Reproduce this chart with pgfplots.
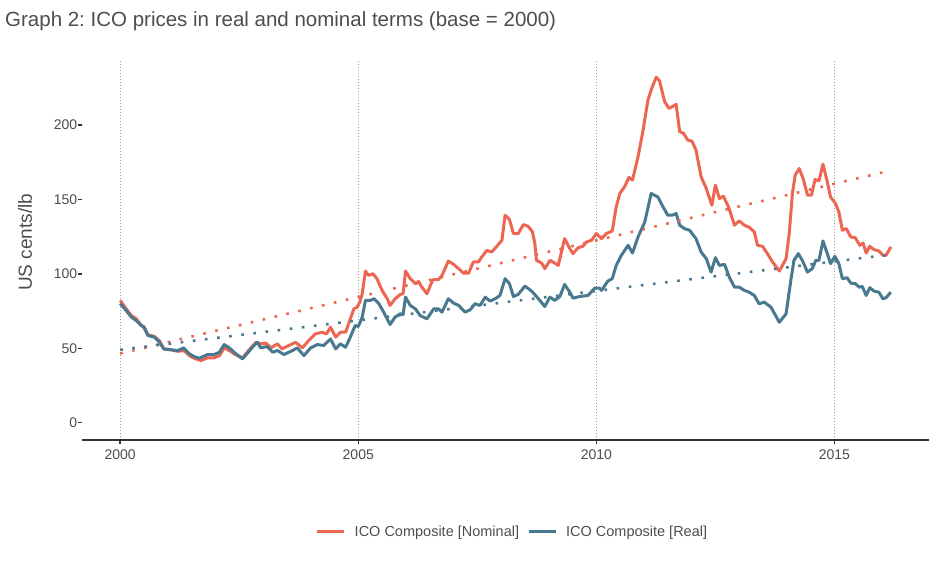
\documentclass[border=0pt]{standalone}
\usepackage{fontspec}
\setmainfont{Liberation Sans}
\usepackage{pgfplots}
\pgfplotsset{compat=1.18}
\frenchspacing
\definecolor{nomc}{RGB}{236,102,82}
\definecolor{realc}{RGB}{72,121,143}
\definecolor{txtc}{RGB}{77,77,77}
\definecolor{tickc}{RGB}{51,51,51}
\begin{document}
\begin{tikzpicture}[x=1pt,y=1pt]
\useasboundingbox (0,0) rectangle (940,588);
\node[anchor=base west, font=\fontsize{20.5}{24}\selectfont, text=txtc, inner sep=0pt] at (5,561) {Graph 2: ICO prices in real and nominal terms (base = 2000)};
\begin{axis}[
 at={(81.7pt,148pt)}, anchor=south west,
 scale only axis, width=847.6pt, height=380pt,
 xmin=-9.7, xmax=203.9, ymin=-11.6, ymax=243.7,
 axis x line*=bottom, axis y line*=left,
 x axis line style={-, line width=1.3pt, color=tickc},
 y axis line style={draw=none},
 xtick={0,60,120,180}, xticklabels={2000,2005,2010,2015},
 ytick={0,50,100,150,200},
 tick align=outside,
 major tick length=4pt,
 x tick style={line width=1.5pt, color=tickc},
 y tick style={line width=1.3pt, color=tickc},
 /pgf/number format/assume math mode=true,
 tick label style={font=\fontsize{14}{16}\selectfont, text=txtc},
 yticklabel style={xshift=3pt},
 xticklabel style={yshift=-2pt},
 xmajorgrids,
 major x grid style={color=black!40, line width=0.8pt, dash pattern=on 1pt off 2pt},
 ylabel={US cents/lb},
 ylabel style={at={(axis description cs:-0.0669,0.52)}, anchor=center, font=\fontsize{19}{22}\selectfont, text=txtc},
 legend columns=2,
 legend style={at={(axis description cs:0.507,-0.2421)}, anchor=center, draw=none, fill=none,
   font=\fontsize{14.5}{17}\selectfont, text=txtc, nodes={inner sep=0pt},
   /tikz/every odd column/.append style={column sep=9pt},
   /tikz/every even column/.append style={column sep=8pt}},
 legend image code/.code={\draw[#1,line width=3pt] (0pt,0pt) -- (27pt,0pt);},
]
\addplot[nomc, line width=3pt, line join=round, mark=none] coordinates {
(0,82.2)(1.5,76.5)(2.8,72)(4,70)(5.3,65.5)(6,64.5)(7,59)(8.6,58)(9.9,55)(11,49.6)
(12.8,49)(14.5,48)(16,48.5)(17.8,44.4)(19,42.9)(20.4,41.8)(22,43.6)(23.7,43.6)(25,45.1)(26.2,50.3)
(27.5,48.5)(29,45.8)(30.8,43.6)(32.5,49)(34.2,54)(35.4,53)(36.7,53.5)(38,50.3)(39.6,53)(40.8,49.6)
(42.5,51.9)(44.2,54)(45.9,50.3)(47.5,55.2)(49.2,59.7)(50.9,60.8)(52,59.7)(53,64.2)(54.3,57.5)(55.5,60.8)
(56.8,60.8)(58,69.8)(58.9,76.5)(59.7,77.6)(60.4,81)(61,86.7)(61.8,101.9)(62.6,99)(63.7,100.1)(64.7,96.8)
(66,88.9)(67.3,83.3)(68,78.8)(69.3,83.3)(70.6,86.2)(71.3,86.7)(71.9,101.9)(73.1,96.8)(74.4,93.4)(75.2,94.9)
(76,91.1)(77.3,86.7)(78.8,96.1)(80.2,96.1)(81.1,99)(82.7,108.6)(84,106.4)(85.3,103.5)(86.5,100.5)(87.8,100.5)
(89,108)(90.3,108)(91.1,111.3)(92.4,115.8)(93.6,114.7)(94.9,118.5)(96.2,122.6)(97,139.4)(98.1,136.5)(99.1,127.1)
(100.3,127.1)(101.6,133.1)(102.8,132)(103.9,128.2)(104.5,120.3)(104.9,109.1)(106.2,107.3)(107,103.5)(108.3,109.1)(109.5,107.3)
(110.4,105.7)(112,123.7)(113.3,117)(114.1,113.6)(115.4,117.6)(116.6,118.5)(117.5,121.4)(118.8,122.6)(120,127.1)(121.3,123.7)
(122.5,127.1)(124,128.8)(125,145)(125.9,154)(127.1,158.5)(128.2,164.8)(129.1,163)(130.5,178.7)(131.7,195.5)(133,216.8)
(134.1,225.8)(135.1,232.1)(135.9,229.8)(137.2,215.7)(138.3,211.2)(139.1,212.3)(140.1,213.9)(141,195.5)(142,194.4)(143,189.9)
(144.1,189.2)(145.1,183.2)(146.4,165.2)(147.7,157.4)(149.1,146.1)(150,159.6)(151,150.6)(152,152.2)(153.3,145)(154.8,132.7)
(156,135.6)(157.3,132.7)(158.5,131.3)(159.8,128.2)(160.6,119.2)(161.9,118.5)(163.1,113.6)(164.4,108)(166.1,101.9)(167.8,110.2)
(168.6,127.1)(169.4,154)(170.1,166.3)(171.1,170.8)(172.1,164.1)(173.2,152.9)(174.2,152.9)(175.1,163.4)(176.1,162.5)(177.1,173.7)
(178.2,161.8)(179,151.7)(180.3,147.2)(181.1,141.6)(182,129.3)(183,130.4)(184.1,124.8)(185.2,124.4)(186.4,119.2)(187.2,120.7)
(188,114)(188.9,118.5)(190,116.3)(191.2,115.4)(192.2,112.5)(193,112.5)(194.2,118.1)
};
\addlegendentry{ICO Composite [Nominal]}
\addplot[realc, line width=3pt, line join=round, mark=none] coordinates {
(0,80)(1.5,75.4)(2.8,71)(4,68.7)(5.3,65.3)(6,64)(7,58.6)(8.6,57.5)(9.9,54)(11,49.6)
(12.8,49)(14.5,48.5)(16,50.3)(17.4,46.3)(18.7,44.4)(19.9,43.3)(22,45.8)(23.7,45.8)(25,47.4)(26.2,52.5)
(27.5,50.3)(29,46.7)(30.8,42.9)(32.5,48)(33.7,51.9)(34.6,54)(35.4,50.3)(37,51.2)(38.4,47.4)(39.6,48.5)
(41.3,45.8)(43.4,48.5)(44.6,50.3)(46.3,45.1)(48,50.3)(49.7,52.5)(51.3,51.9)(53,56.3)(54.3,49.6)(55.5,53)
(56.8,50.7)(58,57.5)(59.2,65.3)(60,64.6)(61,71)(61.8,82.2)(63,82.2)(64,83.3)(65.2,79.9)(66.4,74.3)
(68,66)(69.3,71)(70.6,73.2)(71.3,72.7)(71.9,84.4)(73.1,78.8)(74.4,76.5)(75.6,72)(77.3,69.8)(79,76.5)
(80.2,76.5)(81.1,74.3)(82.7,83.3)(84,80.4)(85.3,78.8)(86.9,74.3)(88.2,75.9)(89.4,79.9)(90.7,78.8)(92,84.4)
(93.2,81.7)(94.5,83.3)(95.7,85.5)(97,96.8)(98.1,93.4)(99.1,84.8)(100.3,86.2)(102,91.8)(103.7,88.4)(105.4,83.3)
(107,78.1)(108.3,84.4)(109.5,82.2)(110.8,84.8)(112,92.9)(113.3,87.7)(114.1,83.7)(115.8,84.8)(117.9,85.5)(119.6,90.5)
(120.7,90.5)(121.3,88.9)(122.9,95.2)(124,96.8)(125,105.7)(126.3,112.5)(128,119.2)(129.1,114)(130.5,124.8)(132.2,134.9)
(133.8,154)(135.5,151.7)(136.8,145)(138,139.4)(139.1,139.4)(140.1,140.5)(141,132.7)(142.2,130.4)(143.5,129.3)(145.1,123.7)
(146.4,114.7)(147.7,110.2)(148.9,101.2)(150,110.9)(151,105.7)(152.3,106.4)(153.5,97.8)(154.8,91.1)(156,91.1)(157.3,88.9)
(158.5,87.7)(159.8,85.5)(161,79.9)(162.3,81)(164,77.6)(166.1,67.5)(167.8,73.2)(169,95.6)(169.8,109.1)(170.9,113.6)
(171.9,109.1)(173.2,101.2)(174.4,103.5)(175.3,109.1)(176.1,109.1)(177.1,122.1)(178.2,113.6)(179,106.9)(180.1,111.8)(181.1,106.9)
(182,96.8)(183.2,97.4)(184.1,93.8)(185.3,93.4)(186.2,91.1)(187,91.6)(188,85.5)(188.9,90.7)(190,88.4)(191.2,87.7)
(192.2,83.3)(193,84)(194.2,87.7)
};
\addlegendentry{ICO Composite [Real]}
\addplot[nomc, line width=2.6pt, dash pattern=on 2.6pt off 9.6pt, forget plot] coordinates {(0,46.5)(194.2,169.5)};
\addplot[realc, line width=2.6pt, dash pattern=on 2.6pt off 9.6pt, forget plot] coordinates {(0,49)(194.2,113)};
\end{axis}
\end{tikzpicture}
\end{document}
